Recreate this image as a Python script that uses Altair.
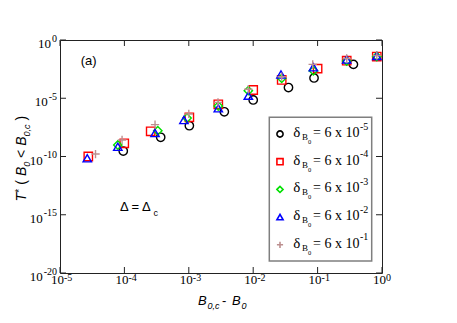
import altair as alt
import pandas as pd

# ---------------- data ----------------
series = ["6e-5", "6e-4", "6e-3", "6e-2", "6e-1"]
legend_exp = ["-5", "-4", "-3", "-2", "-1"]

circ_x = [9.6e-5, 3.66e-4, 1.02e-3, 3.56e-3, 1.0e-2, 3.53e-2, 8.8e-2, 0.36]
circ_y = [2.95e-10, 4.47e-9, 4.37e-8, 6.9e-7, 7.1e-6, 8.3e-5, 5.5e-4, 8.1e-3]

sq_x = [2.75e-5, 9.95e-5, 2.56e-4, 1.02e-3, 2.87e-3, 1.0e-2, 2.77e-2, 0.1, 0.283, 0.83]
sq_y = [1.0e-10, 1.35e-9, 1.45e-8, 2.3e-7, 3.0e-6, 5.1e-5, 3.7e-4, 3.5e-3, 1.66e-2, 3.8e-2]

dia_x = [7.9e-5, 3.3e-4, 9.4e-4, 2.87e-3, 8.4e-3, 2.77e-2, 8.6e-2, 0.283, 0.83]
dia_y = [9.8e-10, 1.62e-8, 2.0e-7, 2.14e-6, 4.5e-5, 5.1e-4, 2.3e-3, 1.58e-2, 3.8e-2]

tri_x = [2.65e-5, 7.9e-5, 2.99e-4, 8.4e-4, 2.87e-3, 8.4e-3, 2.7e-2, 8.6e-2, 0.283, 0.83]
tri_y = [7.1e-11, 6.9e-10, 1.05e-8, 1.35e-7, 1.38e-6, 1.66e-5, 1.1e-3, 4.6e-3, 2.1e-2, 4.3e-2]

plus_x = [3.56e-5, 9.2e-5, 2.99e-4, 1.0e-3, 2.84e-3, 8.4e-3, 2.77e-2, 8.4e-2, 0.283, 0.83]
plus_y = [1.62e-10, 2.6e-9, 5.4e-8, 4.5e-7, 4.4e-6, 5.9e-5, 7.1e-4, 8.1e-3, 2.6e-2, 4.7e-2]

x_ticks = [1e-5, 1e-4, 1e-3, 1e-2, 1e-1, 1e0]
x_tick_exp = ["-5", "-4", "-3", "-2", "-1", "0"]
y_ticks = [1e0, 1e-5, 1e-10, 1e-15, 1e-20]
y_tick_exp = ["0", "-5", "-10", "-15", "-20"]

# ---------------- tables ----------------
rows = []
for s, xs, ys in zip(series, [circ_x, sq_x, dia_x, tri_x, plus_x],
                     [circ_y, sq_y, dia_y, tri_y, plus_y]):
    for a, b in zip(xs, ys):
        rows.append({"series": s, "x": a, "y": b})
pts = pd.DataFrame(rows)

leg = pd.DataFrame({"series": series, "e": legend_exp, "row": list(range(len(series)))})
xlab = pd.DataFrame({"v": x_ticks, "e": x_tick_exp})
ylab = pd.DataFrame({"v": y_ticks, "e": y_tick_exp})
one = pd.DataFrame({"_": [0]})

W, H = 322, 233
FRAME = "#222222"
SERIF = "Liberation Serif"
SANS = "Liberation Sans"

xscale = alt.Scale(type="log", domain=[1e-5, 1], nice=False)
yscale = alt.Scale(type="log", domain=[1e-20, 1], nice=False)
shape_scale = alt.Scale(domain=series,
                        range=["circle", "square", "diamond", "triangle-up",
                               "M-1,0L1,0M0,-1L0,1"])
color_scale = alt.Scale(domain=series,
                        range=["#000000", "#ff0000", "#00e000", "#0000ff", "#bc8f8f"])


def txt(t, x, y, size, font=SANS, style="normal", align="left", angle=0):
    return alt.Chart(one).mark_text(
        text=t, align=align, baseline="alphabetic", font=font, fontSize=size,
        fontStyle=style, angle=angle, color="black"
    ).encode(x=alt.value(x), y=alt.value(y))


layers = []

# inward ticks on all four sides
layers.append(alt.Chart(xlab).mark_rule(color=FRAME, strokeWidth=1).encode(
    x=alt.X("v:Q", scale=xscale, axis=None), y=alt.value(H), y2=alt.value(H - 6)))
layers.append(alt.Chart(xlab).mark_rule(color=FRAME, strokeWidth=1).encode(
    x=alt.X("v:Q", scale=xscale, axis=None), y=alt.value(0), y2=alt.value(6)))
layers.append(alt.Chart(ylab).mark_rule(color=FRAME, strokeWidth=1).encode(
    y=alt.Y("v:Q", scale=yscale, axis=None), x=alt.value(0), x2=alt.value(6)))
layers.append(alt.Chart(ylab).mark_rule(color=FRAME, strokeWidth=1).encode(
    y=alt.Y("v:Q", scale=yscale, axis=None), x=alt.value(W), x2=alt.value(W - 6)))

# data points
layers.append(alt.Chart(pts).mark_point(filled=False, size=70, strokeWidth=1.4, opacity=1).encode(
    x=alt.X("x:Q", scale=xscale, axis=None),
    y=alt.Y("y:Q", scale=yscale, axis=None),
    shape=alt.Shape("series:N", scale=shape_scale, legend=None),
    color=alt.Color("series:N", scale=color_scale, legend=None),
))

# x tick labels
layers.append(alt.Chart(xlab).mark_text(align="right", baseline="alphabetic", dx=4,
                                        font=SERIF, fontSize=13, color="black").encode(
    x=alt.X("v:Q", scale=xscale, axis=None), y=alt.value(H + 11), text=alt.value("10")))
layers.append(alt.Chart(xlab).mark_text(align="left", baseline="alphabetic", dx=4,
                                        font=SERIF, fontSize=10, color="black").encode(
    x=alt.X("v:Q", scale=xscale, axis=None), y=alt.value(H + 7.5), text="e:N"))

# y tick labels
ybase = alt.Chart(ylab).transform_calculate(
    nd="length(replace(datum.e, '-', ''))",
    w="5 * datum.nd + 3.3 * (length(datum.e) - datum.nd)",
    px10="-3 - datum.w - 1",
)
layers.append(ybase.mark_text(align="right", baseline="alphabetic", dy=1.5,
                              font=SERIF, fontSize=10, color="black").encode(
    x=alt.value(-3), y=alt.Y("v:Q", scale=yscale, axis=None), text="e:N"))
layers.append(ybase.mark_text(align="right", baseline="alphabetic", dy=8,
                              font=SERIF, fontSize=13, color="black").encode(
    x=alt.X("px10:Q", scale=None), y=alt.Y("v:Q", scale=yscale, axis=None),
    text=alt.value("10")))

# x axis title: B_{0,c} - B_0
layers += [
    txt("B", 138, 265, 13, style="italic"),
    txt("0,c", 147.5, 269, 9, style="italic"),
    txt("-", 162, 265, 13),
    txt("B", 172, 265, 13, style="italic"),
    txt("0", 181.5, 269, 9, style="italic"),
]

# y axis title: T* ( B_0 < B_{0,c} ) rotated, each piece placed on its own
bx = 26 - 60
layers += [
    txt("T", bx, 201.5 - 40, 14, style="italic", angle=270),
    txt("*", bx - 3, 193.0 - 40, 11, angle=270),
    txt("(", bx, 184.7 - 40, 14, angle=270),
    txt("B", bx, 176.1 - 40, 14, style="italic", angle=270),
    txt("0", bx + 3.5, 166.8 - 40, 9, style="italic", angle=270),
    txt("<", bx, 157.9 - 40, 14, angle=270),
    txt("B", bx, 145.8 - 40, 14, style="italic", angle=270),
    txt("0,c", bx + 3.5, 136.5 - 40, 9, style="italic", angle=270),
    txt(")", bx, 120.6 - 40, 14, angle=270),
]

# annotations
layers += [
    txt("(a)", 20.7, 25, 13),
    txt("\u0394 = \u0394", 60, 171, 13),
    txt("c", 93.5, 176, 9),
]

# legend box
layers.append(alt.Chart(one).mark_rect(fill="white", stroke="#7f7f7f", strokeWidth=1.5).encode(
    x=alt.value(209.3), x2=alt.value(311.7), y=alt.value(77.3), y2=alt.value(221)))

lbase = alt.Chart(leg).transform_calculate(py="94 + datum.row * 27.7")
layers.append(lbase.mark_point(filled=False, size=38, strokeWidth=1.6, opacity=1).encode(
    x=alt.value(220), y=alt.Y("py:Q", scale=None),
    shape=alt.Shape("series:N", scale=shape_scale, legend=None),
    color=alt.Color("series:N", scale=color_scale, legend=None)))


def ltxt(t, x, dy, size, field=False):
    m = lbase.mark_text(align="left", baseline="alphabetic", dy=dy, font=SERIF,
                        fontSize=size, color="black")
    return m.encode(x=alt.value(x), y=alt.Y("py:Q", scale=None),
                    text=("e:N" if field else alt.value(t)))


layers += [
    ltxt("\u03b4", 233.3, 3, 15),
    ltxt("B", 242, 6, 9),
    ltxt("0", 248, 10, 6.5),
    ltxt("= 6 x 10", 253, 3, 14),
    ltxt("", 300, -4.5, 10, field=True),
]

chart = alt.layer(*layers).properties(
    width=W, height=H,
    autosize=alt.AutoSizeParams(type="none"),
    padding={"left": 52, "top": 32, "right": 67, "bottom": 42},
).configure_view(stroke=FRAME, strokeWidth=1)

chart.save("out.html", embed_options={"renderer": "svg", "actions": False})
